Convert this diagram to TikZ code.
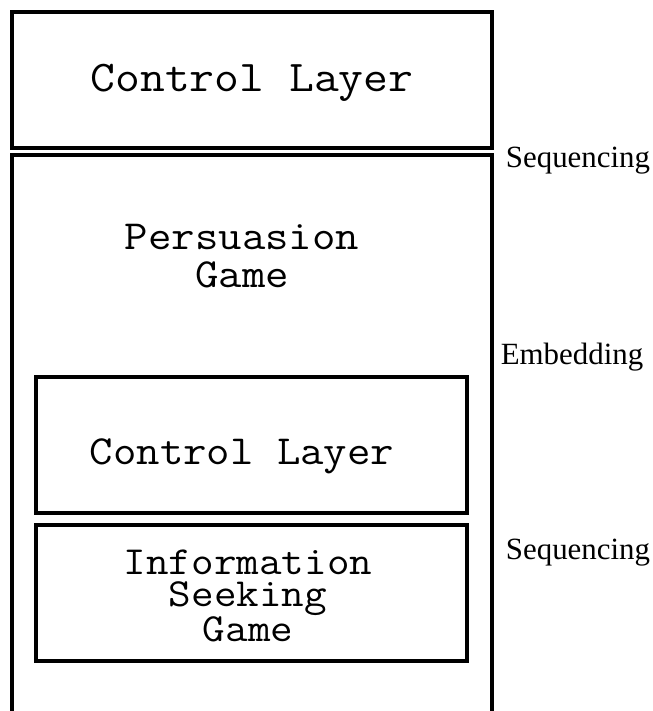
\documentclass[tikz,border=0pt]{standalone}
\usepackage{fontspec}
\setmainfont{Liberation Serif}
\newfontfamily\courier{Latin Modern Mono}[FakeStretch=1.1]
\usepackage{tikz}

\tikzset{
  box/.style={draw,line width=3.5bp,minimum width=#1,inner sep=0pt},
  game/.style={font=\courier\fontsize{41.5}{38}\selectfont,align=center},
  rel/.style={font=\fontsize{31}{34}\selectfont}
}

\begin{document}
\begin{tikzpicture}[x=1bp,y=-1bp]
  \useasboundingbox (0,0) rectangle (653,711);
  \clip (0,0) rectangle (653,711);
  \node[box=480bp,minimum height=136bp] (top) at (252,80){};
  \node[game,font=\courier\fontsize{44}{40}\selectfont] (ttext) at (252,83){Control Layer};
  \node[box=480bp,minimum height=570bp] (persuasion) at (252,440){};
  \node[game] (ptext) at (242,256){Persuasion\\Game};
  \node[box=431bp,minimum height=136bp] (inner) at (251.5,445){};
  \node[game] (ctext) at (242,456){Control Layer};
  \node[box=431bp,minimum height=136bp] (info) at (251.5,593){};
  \node[game,font=\courier\fontsize{40}{32}\selectfont] (itext) at (248,596){Information\\Seeking\\Game};
  \node[rel] (seq1) at (578,161){Sequencing};
  \node[rel] (emb) at (572,357){Embedding};
  \node[rel] (seq2) at (578,553){Sequencing};
\end{tikzpicture}
\end{document}
